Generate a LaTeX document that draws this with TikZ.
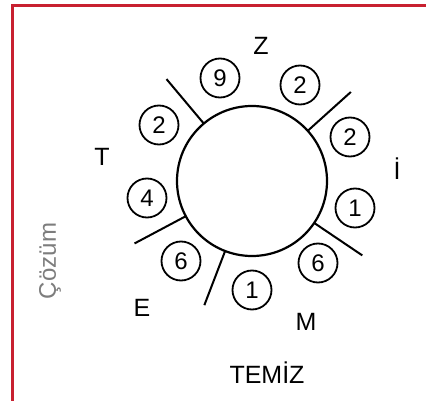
\documentclass[tikz,border=0pt]{standalone}
\usepackage{fontspec}
\setmainfont{Liberation Sans}
\usetikzlibrary{calc}
\definecolor{framered}{RGB}{200,32,48}
\definecolor{labelgray}{RGB}{125,125,125}
\begin{document}
\begin{tikzpicture}[x=1pt,y=-1pt,
  num/.style={circle,draw,line width=1.8pt,minimum size=39pt,inner sep=0pt,font=\fontsize{24}{24}\selectfont},
  letter/.style={anchor=base,inner sep=0pt,font=\fontsize{25}{25}\selectfont},
  sepline/.style={line width=2pt}]
\useasboundingbox (0,0) rectangle (426,401);
\fill[white] (0,0) rectangle (426,401);
\draw[framered,line width=3pt] (12.5,401) -- (12.5,5.5) -- (426,5.5);
% big circle
\node[circle,draw,line width=2.2pt,minimum size=150pt,inner sep=0pt] (big) at (252,181) {};
% separators
\foreach \a/\n in {130/a,42/b,-34/c,-111/d,-152/e}{
  \coordinate (in\n) at ($(big.center)+(\a:75pt)$);
  \coordinate (out\n) at ($(big.center)+(\a:133pt)$);
  \draw[sepline] (in\n) -- (out\n);
}
% numbered circles
\node[num] (n9) at (220,78) {9};
\node[num] (n2a) at (300,85) {2};
\node[num] (n2b) at (350,137) {2};
\node[num] (n1a) at (355,208) {1};
\node[num] (n6a) at (318,263) {6};
\node[num] (n1b) at (252,290) {1};
\node[num] (n6b) at (181,261) {6};
\node[num] (n4) at (147,198) {4};
\node[num] (n2c) at (159,125) {2};
% letters
\node[letter] (lz) at (261,55) {Z};
\node[letter] (lt) at (102,166) {T};
\node[letter] (li) at (397,179) {İ};
\node[letter] (le) at (142,316) {E};
\node[letter] (lm) at (306,330) {M};
\node[letter] (word) at (267,383) {TEMİZ};
% side label
\node[rotate=90,text=labelgray,inner sep=0pt,font=\fontsize{24}{24}\selectfont] (cz) at (50,261) {Çözüm};
\end{tikzpicture}
\end{document}
